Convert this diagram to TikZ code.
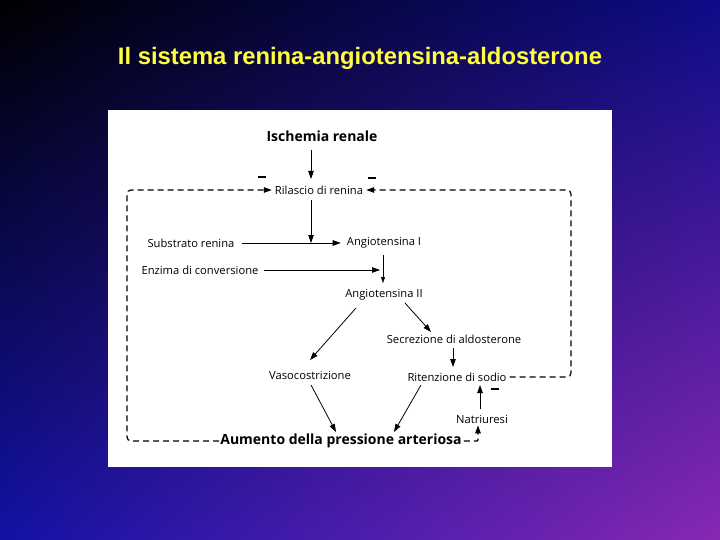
\documentclass[tikz,border=0pt]{standalone}
\usepackage{fontspec}
\usetikzlibrary{arrows.meta,calc,shadings}
\newfontfamily\diagfont{Open Sans}
\newfontfamily\titlefont{Liberation Sans}
\definecolor{bgtr}{RGB}{12,12,135}
\definecolor{bgbl}{RGB}{18,18,165}
\definecolor{bgbr}{RGB}{135,40,180}
\definecolor{titleyellow}{RGB}{255,255,60}
\tikzset{
  txt/.style={font=\diagfont\fontsize{11.2}{13}\selectfont, inner sep=1pt, text=black},
  btxt/.style={font=\diagfont\fontsize{14}{16}\selectfont\bfseries, inner sep=1pt, text=black},
  arr/.style={draw=black, line width=0.8pt, -{Triangle[length=8pt,width=5.5pt]}},
  thinarr/.style={draw=black, line width=0.4pt, -{Triangle[length=6pt,width=4pt]}},
  dsh/.style={draw=black, line width=1.2pt, dash pattern=on 6pt off 4pt, rounded corners=4pt},
  dsharr/.style={dsh, -{Triangle[length=8pt,width=5.5pt]}},
  minus/.style={inner sep=0pt}
}
\begin{document}
\begin{tikzpicture}[x=1pt,y=-1pt]
\useasboundingbox (0,0) rectangle (720,540);
\shade[upper left=black, upper right=bgtr, lower left=bgbl, lower right=bgbr] (0,0) rectangle (720,540);
\node[font=\titlefont\fontsize{23.8}{26}\selectfont\bfseries, text=titleyellow] (title) at (360,58) {Il sistema renina-angiotensina-aldosterone};
\fill[white] (108,110) rectangle (612,467);

% nodes
\node[btxt] (isch) at (322,136) {Ischemia renale};
\node[txt] (ril) at (319,190) {Rilascio di renina};
\node[txt] (sub) at (191,243) {Substrato renina};
\node[txt] (ang1) at (384,243) {Angiotensina I};
\node[txt] (enz) at (200,270) {Enzima di conversione};
\node[txt] (ang2) at (384,295) {Angiotensina II};
\node[txt] (secr) at (454,339) {Secrezione di aldosterone};
\node[txt] (rit) at (457,377) {Ritenzione di sodio};
\node[txt] (vaso) at (310,375) {Vasocostrizione};
\node[txt] (natr) at (482,419) {Natriuresi};
\node[btxt] (aum) at (341,441) {Aumento della pressione arteriosa};

\node[minus] (m1) at (262,177) {\rule{8pt}{1.6pt}};
\node[minus] (m2) at (372,178) {\rule{8pt}{1.6pt}};
\node[minus] (m3) at (495,389) {\rule{8pt}{1.6pt}};

\coordinate (j1) at (311,243);
\coordinate (j2) at (380,270);
\coordinate (tl) at (127,190);
\coordinate (tr) at (571,190);

% solid arrows
\draw[arr] ($(isch)+(-11,14)$) -- ($(ril)+(-8,-11)$);
\draw[arr] ($(ril)+(-8,10)$) -- (j1);
\draw[arr, shorten <=6pt, shorten >=5pt] (sub) -- (ang1);
\draw[arr, shorten <=4pt] (enz) -- (j2);
\draw[thinarr] ($(ang1)+(-1,12)$) -- ($(ang2)+(-1,-12)$);
\draw[arr] ($(ang2)+(-28,13)$) -- ($(vaso)+(0,-15)$);
\draw[arr] ($(ang2)+(21,8)$) -- ($(secr)+(-23,-7)$);
\draw[arr] ($(secr)+(-1,9)$) -- ($(rit)+(-4,-10)$);
\draw[arr] ($(vaso)+(1,10)$) -- ($(aum)+(-5,-9)$);
\draw[arr] ($(rit)+(-36,8)$) -- ($(aum)+(53,-9)$);
\draw[arr] ($(natr)+(-2,-10)$) -- ($(rit)+(23,8)$);

% dashed feedback loops
\draw[dsharr, shorten >=2pt] (aum.west) -| (tl) -- (ril.west);
\draw[dsharr, shorten <=2pt, shorten >=2pt] (rit.east) -| (tr) -- (ril.east);
\draw[dsharr, rounded corners=1pt, shorten <=1pt] (aum.east) -| ($(natr.south)+(-4,1)$);
\end{tikzpicture}
\end{document}
